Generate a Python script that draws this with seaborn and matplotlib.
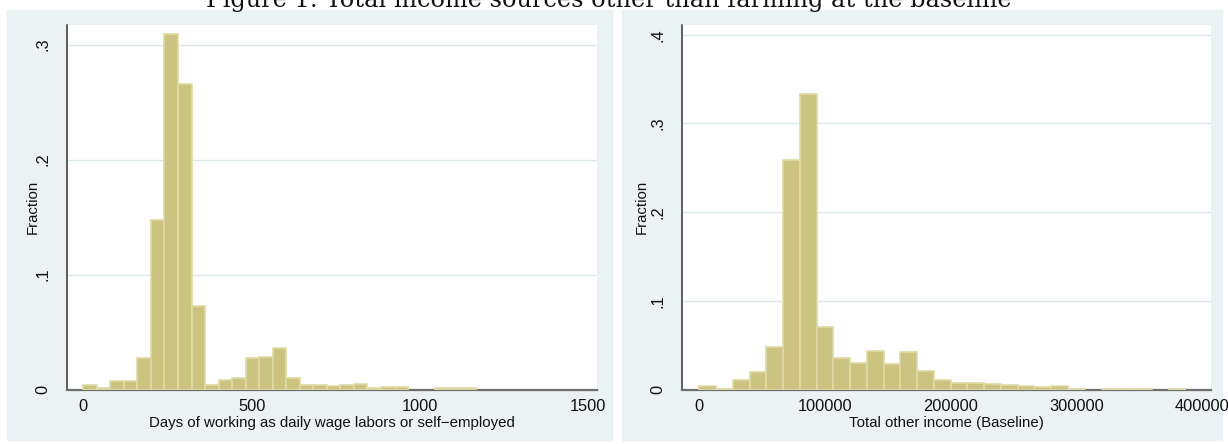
import matplotlib
matplotlib.use("Agg")
import numpy as np
import pandas as pd
import matplotlib.pyplot as plt
from matplotlib.patches import Rectangle
import seaborn as sns

# data (fraction of households per bin)
days_bin_width = 40.2
days_fraction = [0.0043, 0.0017, 0.0072, 0.0072, 0.027, 0.147, 0.309, 0.266, 0.073,
                 0.0043, 0.008, 0.0096, 0.027, 0.028, 0.036, 0.0096, 0.0043, 0.0043,
                 0.003, 0.004, 0.0048, 0.0015, 0.002, 0.002, 0.0, 0.0, 0.0012, 0.0012, 0.0012]

income_bin_width = 13333.3
income_fraction = [0.0045, 0.0008, 0.0105, 0.020, 0.0474, 0.259, 0.333, 0.0704, 0.0354,
                   0.0297, 0.0433, 0.0286, 0.0421, 0.0207, 0.0105, 0.0069, 0.0071, 0.006,
                   0.005, 0.0038, 0.0026, 0.0038, 0.0008, 0.0, 0.0008, 0.0008, 0.0008,
                   0.0, 0.0008]

days_ticks = [0, 500, 1000, 1500]
income_ticks = [0, 100000, 200000, 300000, 400000]
days_yticks = [0, 0.1, 0.2, 0.3]
income_yticks = [0, 0.1, 0.2, 0.3, 0.4]
ytick_labels = ["0", ".1", ".2", ".3", ".4"]

title = "Figure 1: Total income sources other than farming at the baseline"
days_xlabel = "Days of working as daily wage labors or self\u2212employed"
income_xlabel = "Total other income (Baseline)"

BG = "#EAF2F3"
GRID = "#DDE8EB"
BAR = "#CBC37F"
BAR_EDGE = "#DEDAA6"

sns.set_style("white")
plt.rcParams["font.family"] = ["Liberation Sans", "DejaVu Sans"]

W, H = 1228, 444
fig = plt.figure(figsize=(W / 100, H / 100), dpi=100)
fig.patch.set_facecolor("white")

# graph regions
for x0, x1 in [(7, 612), (622, 1222)]:
    fig.add_artist(Rectangle((x0 / W, 4 / H), (x1 - x0) / W, 430 / H,
                             transform=fig.transFigure, color=BG, zorder=0))

# title is cropped at the top edge, as in the source page
fig.text(608.5 / W, 1 - 6.5 / H, title, ha="center", va="baseline",
         family="DejaVu Serif", fontsize=17.3, color="#111111", zorder=5)


def draw_hist(ax, width, fractions, xticks, yticks, xlim, ylim, xlabel, ylabel_x):
    n = len(fractions)
    centers = (np.arange(n) + 0.5) * width
    df = pd.DataFrame({"center": centers, "fraction": fractions})
    sns.histplot(data=df, x="center", weights="fraction", binwidth=width,
                 binrange=(0, n * width), ax=ax, color=BAR, alpha=1,
                 edgecolor=BAR_EDGE, linewidth=1.2, zorder=3)
    for p in list(ax.patches):
        if p.get_height() <= 0:
            p.remove()
    ax.set_facecolor("white")
    ax.set_xlim(*xlim)
    ax.set_ylim(*ylim)
    ax.set_xticks(xticks)
    ax.set_xticklabels([str(t) for t in xticks])
    ax.set_yticks(yticks)
    ax.set_yticklabels(ytick_labels[:len(yticks)])
    ax.grid(axis="y", color=GRID, lw=1, zorder=0)
    ax.grid(axis="x", visible=False)
    ax.set_axisbelow(True)
    for s in ["top", "right"]:
        ax.spines[s].set_visible(False)
    ax.spines["left"].set_color("#333333")
    ax.spines["bottom"].set_color("#6e6e6e")
    ax.spines["left"].set_linewidth(1.1)
    ax.spines["bottom"].set_linewidth(1.6)
    ax.tick_params(axis="both", direction="out", length=5, width=1,
                   color="#444444", labelsize=11.8, labelcolor="#111111")
    ax.tick_params(axis="x", pad=2)
    ax.tick_params(axis="y", pad=7, labelrotation=90)
    for lab in ax.get_yticklabels():
        lab.set_va("center")
    ax.set_xlabel(xlabel, fontsize=10.8, labelpad=1, color="#111111")
    ax.set_ylabel("Fraction", fontsize=10.8, color="#111111")
    ax.yaxis.set_label_coords(ylabel_x, 0.5)


ax1 = fig.add_axes([67 / W, (H - 389.5) / H, 530 / W, 364.5 / H])
draw_hist(ax1, days_bin_width, days_fraction, days_ticks, days_yticks,
          (-48.4, 1526), (0, 0.317), days_xlabel, (40 - 67) / 530)

ax2 = fig.add_axes([682 / W, (H - 389.5) / H, 529 / W, 364.5 / H])
draw_hist(ax2, income_bin_width, income_fraction, income_ticks, income_yticks,
          (-13760, 407100), (0, 0.411), income_xlabel, (649 - 682) / 529)

fig.savefig("out.png", dpi=100, facecolor="white")
